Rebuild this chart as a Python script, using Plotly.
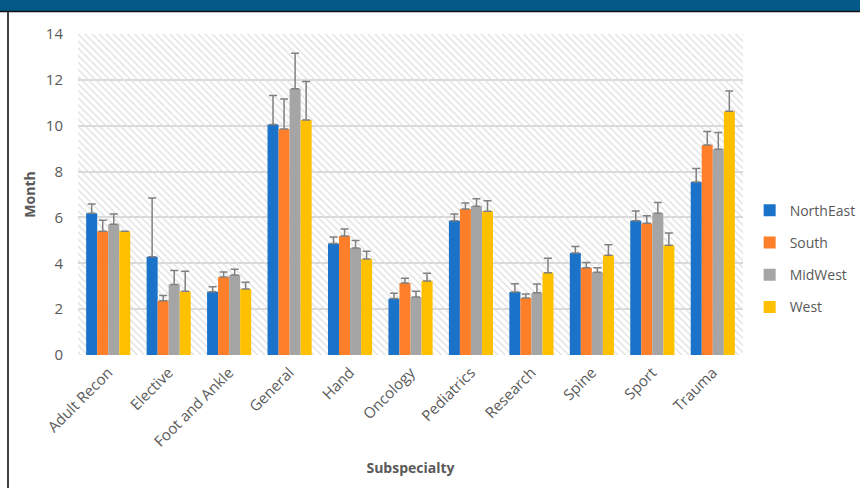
import plotly.graph_objects as go

categories = ["Adult Recon", "Elective", "Foot and Ankle", "General", "Hand", "Oncology",
              "Pediatrics", "Research", "Spine", "Sport", "Trauma"]

northeast = [6.18, 4.28, 2.76, 10.05, 4.86, 2.46, 5.86, 2.75, 4.45, 5.85, 7.55]
northeast_err = [0.41, 2.57, 0.22, 1.27, 0.29, 0.23, 0.29, 0.36, 0.28, 0.43, 0.58]

south = [5.40, 2.37, 3.40, 9.86, 5.19, 3.14, 6.37, 2.49, 3.80, 5.75, 9.16]
south_err = [0.48, 0.23, 0.22, 1.31, 0.31, 0.21, 0.26, 0.17, 0.23, 0.32, 0.59]

midwest = [5.70, 3.08, 3.49, 11.61, 4.67, 2.53, 6.49, 2.71, 3.61, 6.18, 8.97]
midwest_err = [0.45, 0.61, 0.25, 1.55, 0.32, 0.25, 0.33, 0.39, 0.20, 0.47, 0.73]

west = [5.40, 2.78, 2.88, 10.25, 4.19, 3.23, 6.27, 3.59, 4.35, 4.79, 10.63]
west_err = [0.0, 0.87, 0.29, 1.68, 0.33, 0.33, 0.46, 0.63, 0.46, 0.53, 0.88]

series = [
    ("NorthEast", northeast, northeast_err, "#1a73c9"),
    ("South", south, south_err, "#fe7f2a"),
    ("MidWest", midwest, midwest_err, "#a5a5a5"),
    ("West", west, west_err, "#ffc000"),
]

y_ticks = [0, 2, 4, 6, 8, 10, 12, 14]

FONT = "Open Sans"
TXT = "#595959"

fig = go.Figure()

# hatched plot-area background
fig.add_trace(go.Bar(
    x=[0.5], y=[max(y_ticks)], width=[1], xaxis="x", yaxis="y",
    marker=dict(color="rgba(0,0,0,0)", line=dict(width=0),
                pattern=dict(shape="\\", fgcolor="#dedede", size=5, solidity=0.25,
                             fillmode="replace")),
    showlegend=False, hoverinfo="skip",
))

for name, vals, errs, color in series:
    fig.add_trace(go.Bar(
        x=categories, y=vals, name=name, legendgroup=name, xaxis="x2", yaxis="y",
        marker=dict(color=color, line=dict(width=0)),
        error_y=dict(type="data", array=errs, arrayminus=[0] * len(errs), symmetric=False,
                     color="#808080", thickness=1.5, width=4),
    ))

fig.update_layout(
    width=860, height=488,
    margin=dict(l=78, r=117, t=34, b=133, autoexpand=False),
    paper_bgcolor="white", plot_bgcolor="white",
    barmode="group", bargap=0.27, bargroupgap=0,
    font=dict(family=FONT, color=TXT, size=14),
    xaxis=dict(range=[0, 1], visible=False, fixedrange=True),
    xaxis2=dict(overlaying="x", type="category", tickangle=-45, showgrid=False,
                showline=False, ticks="", tickfont=dict(size=15, color=TXT),
                ticklabelstandoff=5, automargin=False,
                title=dict(text="<b>Subspecialty</b>", font=dict(size=14, color=TXT), standoff=13)),
    yaxis=dict(range=[0, 14], tickvals=y_ticks, showgrid=True, gridcolor="#d9d9d9", gridwidth=1.5,
               zeroline=False, showline=False, ticks="", ticklen=0, automargin=False,
               tickfont=dict(size=15, color=TXT), ticklabelstandoff=14,
               title=dict(text="<b>Month</b>", font=dict(size=14, color=TXT), standoff=6)),
    legend=dict(x=1.01, y=0.30, xanchor="left", yanchor="middle",
                font=dict(size=14, color=TXT), tracegroupgap=11,
                bgcolor="rgba(0,0,0,0)"),
    shapes=[
        dict(type="rect", xref="paper", yref="paper", x0=-0.2, x1=1.2,
             y0=(355 - 11) / 321, y1=1.2, fillcolor="#035a88", line=dict(width=0), layer="above"),
        dict(type="line", xref="paper", yref="paper", x0=-0.2, x1=1.2,
             y0=(355 - 11.5) / 321, y1=(355 - 11.5) / 321, line=dict(color="#111111", width=1.5)),
        dict(type="line", xref="paper", yref="paper", x0=-70 / 665, x1=-70 / 665,
             y0=-0.5, y1=(355 - 12) / 321, line=dict(color="#404040", width=2)),
    ],
)

fig.write_html("out.html", config={"displayModeBar": False},
               post_script="document.body.style.margin='0';document.body.style.padding='0';")
